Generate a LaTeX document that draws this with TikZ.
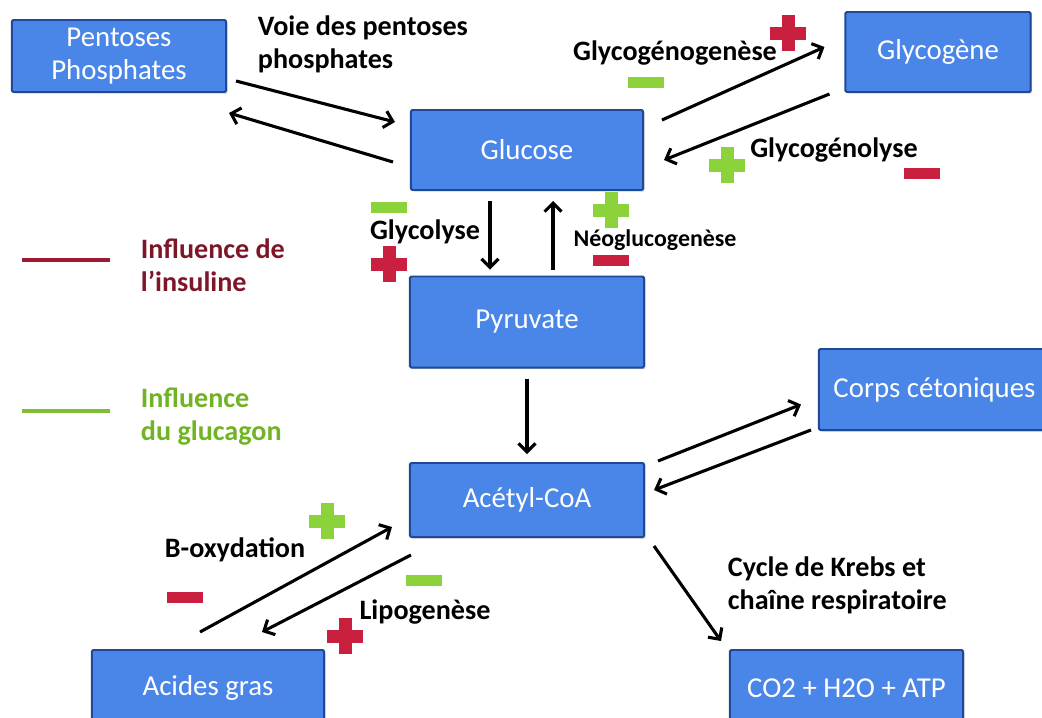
\documentclass[tikz,border=0pt]{standalone}
\usepackage{fontspec}
\setmainfont{Carlito}
\usepackage{tikz}
\usetikzlibrary{calc,arrows.meta,shadows}

\definecolor{boxblue}{RGB}{74,134,232}
\definecolor{boxedge}{RGB}{32,72,150}
\definecolor{insred}{RGB}{200,32,62}
\definecolor{insdark}{RGB}{125,22,40}
\definecolor{glugreen}{RGB}{140,210,58}
\definecolor{gludark}{RGB}{112,180,36}

\begin{document}
\begin{tikzpicture}[x=0.025cm,y=-0.025cm,
  box/.style={draw=boxedge,line width=1.4pt,fill=boxblue,rounded corners=1pt,
    text=white,font=\fontsize{20.5}{23.5}\selectfont,align=center,inner sep=0pt,
    drop shadow={opacity=0.35,shadow xshift=1.2pt,shadow yshift=-1.2pt}},
  flow/.style={line width=2.2pt,-{Straight Barb[length=6pt,width=12pt]}},
  lbl/.style={font=\bfseries\fontsize{20}{23.5}\selectfont,align=left},
  plussign/.pic={\fill (-18,-6.5) rectangle (18,6.5); \fill (-6.5,-18) rectangle (6.5,18);},
  minussign/.pic={\fill (-18,-5.5) rectangle (18,5.5);}]
\useasboundingbox (0,0) rectangle (1042,718);

% Boxes
\node[box,minimum width=5.35cm,minimum height=1.8cm] (pp) at (119,56) {Pentoses\\Phosphates};
\node[box,minimum width=5.8cm,minimum height=2cm] (glu) at (527,150) {Glucose};
\node[box,minimum width=4.625cm,minimum height=2cm] (gly) at (938,52) {Glycogène};
\node[box,minimum width=5.85cm,minimum height=2.275cm] (pyr) at (527,322) {Pyruvate};
\node[box,minimum width=5.775cm,minimum height=2.025cm] (corps) at (934.5,389.5) {Corps cétoniques};
\node[box,minimum width=5.85cm,minimum height=1.85cm] (ace) at (527,500) {Acétyl-CoA};
\node[box,minimum width=5.8cm,minimum height=1.9cm] (ag) at (208,688) {Acides gras};
\node[box,minimum width=5.825cm,minimum height=1.9cm] (co) at (846.5,688) {CO2 + H2O + ATP};

% Arrows
\draw[flow] ($(pp.south east)+(9,-12)$) -- ($(glu.west)+(-15,-28)$);
\draw[flow] ($(glu.west)+(-17,12)$) -- ($(pp.south east)+(2,20)$);
\draw[flow] ($(glu.east)+(18,-30)$) -- ($(gly.west)+(-20,-5)$);
\draw[flow] ($(gly.south west)+(-15,1)$) -- ($(glu.east)+(20,10)$);
\draw[flow] ($(glu.south)+(-37,10)$) -- ($(pyr.north)+(-37,-6)$);
\draw[flow] ($(pyr.north)+(26,-6)$) -- ($(glu.south)+(26,10)$);
\draw[flow] ($(pyr.south)+(0,10)$) -- ($(ace.north)+(0,-8)$);
\draw[flow] ($(ace.north east)+(13,-1)$) -- ($(corps.west)+(-17,15)$);
\draw[flow] ($(corps.south west)+(-7,-1)$) -- ($(ace.east)+(9,-10)$);
\draw[flow] ($(ag.north)+(-8,-17)$) -- ($(ace.west)+(-17,27)$);
\draw[flow] ($(ace.south west)+(2,17)$) -- ($(ag.north)+(54,-17)$);
\draw[flow] ($(ace.south east)+(9,8)$) -- ($(co.north west)+(-8,-8)$);

% Pathway labels
\node[lbl,anchor=west] (voie) at (253,44) {Voie des pentoses\\phosphates};
\node[lbl] (genese) at (675,53) {Glycogénogenèse};
\node[lbl] (lyse) at (834,150) {Glycogénolyse};
\node[lbl] (glycolyse) at (425,232) {Glycolyse};
\node[lbl,font=\bfseries\fontsize{17}{20}\selectfont] (neo) at (655,240) {Néoglucogenèse};
\node[lbl] (boxy) at (235,550) {B-oxydation};
\node[lbl] (lipo) at (425,612) {Lipogenèse};
\node[lbl,anchor=west] (krebs) at (723,585) {Cycle de Krebs et\\chaîne respiratoire};

% Hormone effects
\pic[insred] at (788,33) {plussign};
\pic[glugreen] at (646,82) {minussign};
\pic[glugreen] at (727,165) {plussign};
\pic[insred] at (922,173) {minussign};
\pic[glugreen] at (389,207) {minussign};
\pic[insred] at (389,264) {plussign};
\pic[glugreen] at (611,210) {plussign};
\pic[insred] at (611,260) {minussign};
\pic[glugreen] at (327,521) {plussign};
\pic[insred] at (185,597) {minussign};
\pic[glugreen] at (424,580) {minussign};
\pic[insred] at (345,636) {plussign};

% Legend
\draw[insred!80!black,line width=3.5pt] (22,260) -- (110,260);
\draw[glugreen!90!black,line width=3.5pt] (22,411) -- (110,411);
\node[lbl,text=insdark,anchor=west] (ins) at (136,265) {Influence de\\l’insuline};
\node[lbl,text=gludark,anchor=west] (glc) at (136,417) {Influence\\du glucagon};

\end{tikzpicture}
\end{document}
